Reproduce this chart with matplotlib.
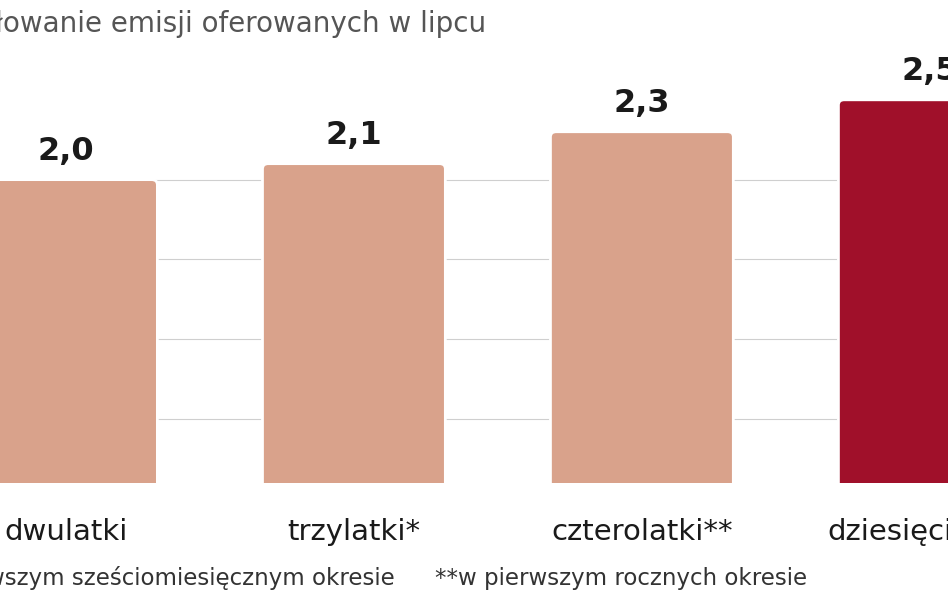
import matplotlib
matplotlib.use("Agg")
import matplotlib.pyplot as plt
from matplotlib.patches import FancyBboxPatch

categories = ["dwulatki", "trzylatki*", "czterolatki**", "dziesięciolatki"]
values = [2.0, 2.1, 2.3, 2.5]
value_labels = ["2,0", "2,1", "2,3", "2,5"]
colors = ["#D9A28B", "#D9A28B", "#D9A28B", "#A0102A"]

fig = plt.figure(figsize=(9.48, 5.93), dpi=100)
ax = fig.add_axes([0, 0.1855, 1, 0.8145])
ax.set_xlim(-0.229, 3.063)
ax.set_ylim(0.1, 3.125)
ax.axis("off")

for g in [0.5, 1.0, 1.5, 2.0]:
    ax.axhline(g, color="#CFCFCF", lw=0.8, zorder=0)

w = 0.635
for i, (v, c, lab) in enumerate(zip(values, colors, value_labels)):
    p = FancyBboxPatch((i - w / 2, 0.0), w, v, boxstyle="round,pad=0,rounding_size=0.02",
                       facecolor=c, edgecolor="white", lw=2, zorder=2, mutation_aspect=1 / 0.6)
    ax.add_patch(p)
    ax.text(i, v + 0.08, lab, ha="center", va="bottom", fontsize=23, fontweight="bold",
            color="#1a1a1a")
    ax.text(i, -0.12, categories[i], ha="center", va="top", fontsize=21,
            color="#1a1a1a", clip_on=False)

fig.text(-0.005, 0.96, "łowanie emisji oferowanych w lipcu", ha="left", va="center",
         fontsize=20, color="#555555")
fig.text(395 / 948, 1 - 578 / 593, "*w pierwszym sześciomiesięcznym okresie", ha="right",
         va="center", fontsize=16.5, color="#333333")
fig.text(435 / 948, 1 - 578 / 593, "**w pierwszym rocznych okresie", ha="left",
         va="center", fontsize=16.5, color="#333333")

fig.savefig("out.png", dpi=100)
